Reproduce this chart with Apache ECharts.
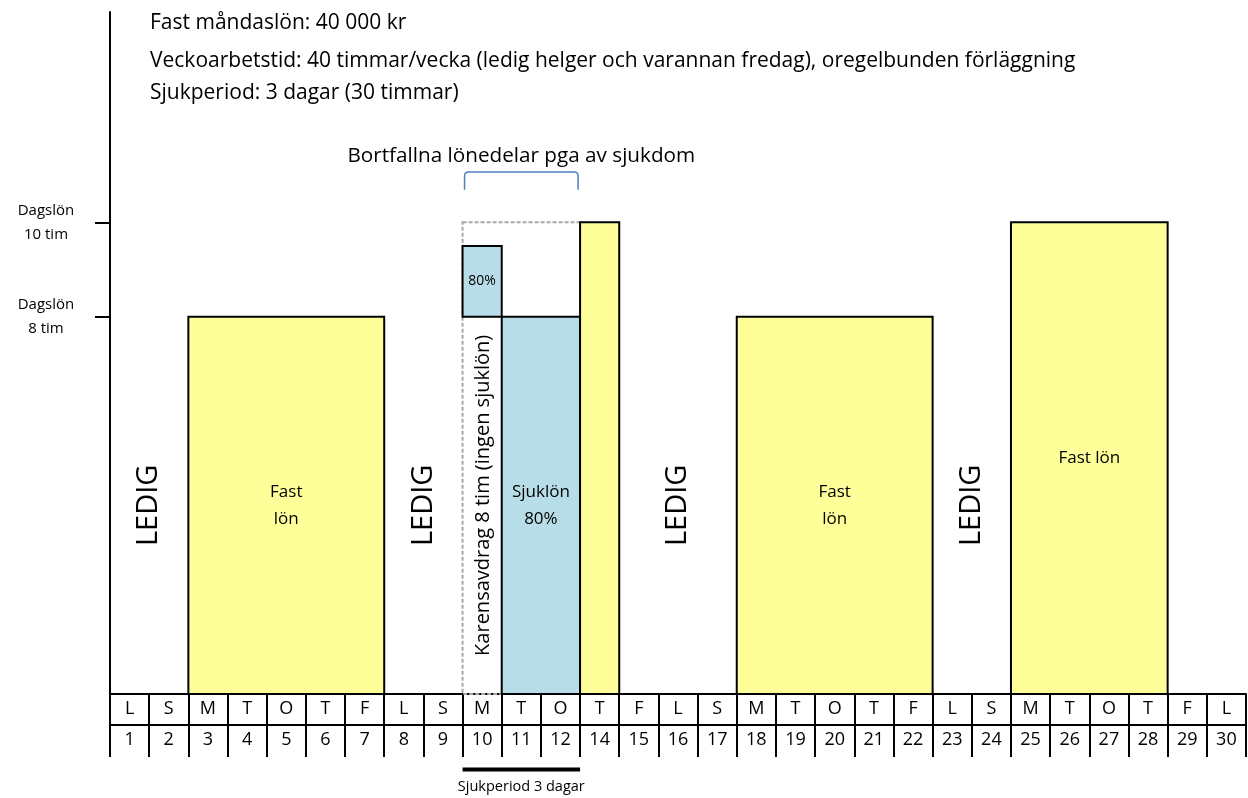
<!DOCTYPE html>
<html>
<head>
<meta charset="utf-8">
<script src="https://cdn.jsdelivr.net/npm/echarts@6/dist/echarts.min.js"></script>
<style>
  html, body { margin: 0; padding: 0; background: #fff; }
  #chart { width: 1248px; height: 798px; }
</style>
</head>
<body>
<div id="chart"></div>
<script>
// dagar i månaden (13 saknas i originalet)
var days = ['1', '2', '3', '4', '5', '6', '7', '8', '9', '10', '11', '12', '14', '15', '16', '17',
    '18', '19', '20', '21', '22', '23', '24', '25', '26', '27', '28', '29', '30'];
var weekdays = ['L', 'S', 'M', 'T', 'O', 'T', 'F', 'L', 'S', 'M', 'T', 'O', 'T', 'F', 'L', 'S',
    'M', 'T', 'O', 'T', 'F', 'L', 'S', 'M', 'T', 'O', 'T', 'F', 'L'];

// block: index för första/sista dag, timmar från/till
var blockStart = [2, 9, 9, 10, 12, 16, 23];
var blockEnd   = [6, 11, 9, 11, 12, 20, 26];
var blockLow   = [0, 0, 8, 0, 0, 0, 0];
var blockHigh  = [8, 10, 9.5, 8, 10, 8, 10];
var blockKind  = ['fast', 'karens', 'sjuk', 'sjuk', 'fast', 'fast', 'fast'];
var blockLabel = ['Fast\nlön', '', '80%', 'Sjuklön\n80%', '', 'Fast\nlön', 'Fast lön'];

// lediga dagar
var ledigStart = [0, 7, 13, 21];
var ledigEnd   = [1, 8, 15, 22];

var yTicks = [8, 10];
var infoLines = [
    'Fast måndaslön: 40 000 kr',
    'Veckoarbetstid: 40 timmar/vecka (ledig helger och varannan fredag), oregelbunden förläggning',
    'Sjukperiod: 3 dagar (30 timmar)'
];

var font = '"Open Sans", Lato, sans-serif';
var chart = echarts.init(document.getElementById('chart'));

function bandRect(api, s, e, lo, hi) {
    var w = api.size([1, 0])[0];
    var p0 = api.coord([s, hi]);
    var p1 = api.coord([e, lo]);
    return { x: p0[0] - w / 2, y: p0[1], width: p1[0] - p0[0] + w, height: p1[1] - p0[1] };
}

function renderBlock(params, api) {
    var i = params.dataIndex;
    var r = bandRect(api, api.value(0), api.value(1), api.value(2), api.value(3));
    var kind = blockKind[i];
    var children = [];
    if (kind === 'karens') {
        children.push({
            type: 'rect', shape: r,
            style: { fill: 'none', stroke: '#a6a6a6', lineWidth: 2, lineDash: [4, 2] }
        });
        // text om karensavdrag i första dagens kolumn
        var c = bandRect(api, api.value(0), api.value(0), 0, 8);
        children.push({
            type: 'text', x: c.x + c.width / 2 + 1, y: c.y + c.height / 2 - 10, rotation: Math.PI / 2,
            style: { text: 'Karensavdrag 8 tim (ingen sjuklön)', x: 0, y: 0, align: 'center',
                verticalAlign: 'middle', font: '20px ' + font, fill: '#000' }
        });
    } else {
        children.push({
            type: 'rect', shape: r,
            style: { fill: kind === 'fast' ? '#ffff99' : '#b7dee8', stroke: '#000', lineWidth: 2 }
        });
    }
    if (blockLabel[i]) {
        children.push({
            type: 'text',
            style: { text: blockLabel[i], x: r.x + r.width / 2, y: r.y + r.height / 2,
                align: 'center', verticalAlign: 'middle',
                font: (kind === 'sjuk' && blockLow[i] > 0 ? '14px ' : '17px ') + font,
                lineHeight: 27, fill: '#000' }
        });
    }
    return { type: 'group', children: children };
}

function renderLedig(params, api) {
    var r = bandRect(api, api.value(0), api.value(1), 0, 8);
    return {
        type: 'text', x: r.x + r.width / 2, y: r.y + r.height / 2, rotation: Math.PI / 2,
        style: { text: 'LEDIG', x: 0, y: 0, align: 'center', verticalAlign: 'middle',
            font: '29px ' + font, fill: '#000' }
    };
}

// klammer och texter kring sjukperioden
function renderSick(params, api) {
    var top = bandRect(api, 9, 11, 10.69, 11.07);
    var bottom = bandRect(api, 9, 11, -1.63, -1.6);
    var cx = top.x + top.width / 2;
    var x0 = top.x + 2, x1 = top.x + top.width - 2, y0 = top.y, y1 = top.y + top.height, rr = 4;
    return {
        type: 'group',
        children: [
            {
                type: 'path',
                shape: { pathData: 'M' + x0 + ' ' + y1 + 'L' + x0 + ' ' + (y0 + rr) +
                    'Q' + x0 + ' ' + y0 + ' ' + (x0 + rr) + ' ' + y0 +
                    'L' + (x1 - rr) + ' ' + y0 + 'Q' + x1 + ' ' + y0 + ' ' + x1 + ' ' + (y0 + rr) +
                    'L' + x1 + ' ' + y1 },
                style: { fill: 'none', stroke: '#4f81bd', lineWidth: 1.5 }
            },
            {
                type: 'text',
                style: { text: 'Bortfallna lönedelar pga av sjukdom', x: cx, y: y0 - 16,
                    align: 'center', verticalAlign: 'middle', font: '20.7px ' + font, fill: '#000' }
            },
            {
                type: 'rect', shape: { x: bottom.x, y: bottom.y - 2, width: bottom.width, height: 4 },
                style: { fill: '#000' }
            },
            {
                type: 'text',
                style: { text: 'Sjukperiod 3 dagar', x: cx, y: bottom.y + 17,
                    align: 'center', verticalAlign: 'middle', font: '14.5px ' + font, fill: '#000' }
            }
        ]
    };
}

var option = {
    animation: false,
    grid: { left: 110, right: 2, top: 12, bottom: 104 },
    graphic: infoLines.map(function (t, i) {
        return {
            type: 'text', left: 150, top: [13, 51, 83][i],
            style: { text: t, font: '21px ' + font, fill: '#000' }
        };
    }),
    xAxis: [
        {
            type: 'category', data: weekdays, position: 'bottom',
            axisLine: { lineStyle: { color: '#000', width: 2 } },
            axisTick: { show: true, interval: 0, length: 63, lineStyle: { color: '#000', width: 2 } },
            axisLabel: { interval: 0, margin: 6, fontSize: 18, fontFamily: font, color: '#000' }
        },
        {
            type: 'category', data: days, position: 'bottom', offset: 31,
            axisLine: { show: true, lineStyle: { color: '#000', width: 2 } },
            axisTick: { show: false },
            axisLabel: { interval: 0, margin: 6, fontSize: 18, fontFamily: font, color: '#000' }
        }
    ],
    yAxis: {
        type: 'value', min: 0, max: 14.46,
        splitLine: { show: false },
        axisLine: { show: true, lineStyle: { color: '#000', width: 2 } },
        axisTick: { show: true, customValues: yTicks, length: 15, lineStyle: { color: '#000', width: 2 } },
        axisLabel: {
            customValues: yTicks, margin: 64, align: 'center', fontSize: 15, fontFamily: font,
            color: '#000', lineHeight: 24, padding: [7, 0, 0, 0],
            formatter: function (v) { return 'Dagslön\n' + v + ' tim'; }
        }
    },
    series: [
        {
            type: 'custom', renderItem: renderBlock, clip: false,
            encode: { x: [0, 1], y: [2, 3] },
            data: blockStart.map(function (s, i) { return [s, blockEnd[i], blockLow[i], blockHigh[i]]; })
        },
        {
            type: 'custom', renderItem: renderLedig, clip: false,
            encode: { x: [0, 1] },
            data: ledigStart.map(function (s, i) { return [s, ledigEnd[i]]; })
        },
        {
            type: 'custom', renderItem: renderSick, clip: false,
            data: [[9, 0]]
        }
    ]
};

chart.setOption(option);
</script>
</body>
</html>
